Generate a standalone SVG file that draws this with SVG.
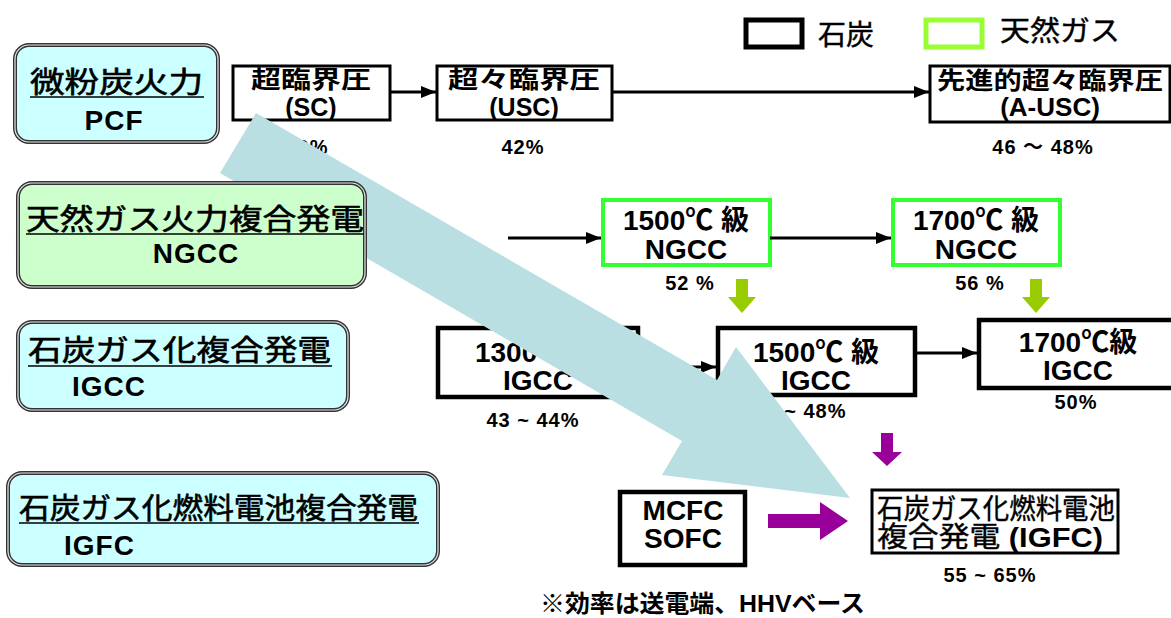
<svg xmlns="http://www.w3.org/2000/svg" width="1171" height="618" viewBox="0 0 1171 618">
<defs>
<marker id="ah" viewBox="0 0 10 10" refX="10" refY="5" markerWidth="5" markerHeight="5" markerUnits="strokeWidth" orient="auto"><path d="M0,1 L10,5 L0,9 z" fill="#000"/></marker>
<style>
text{font-family:"Liberation Sans","Noto Sans CJK JP",sans-serif;font-weight:bold;fill:#000}
.cat{stroke:#333;stroke-width:4}
.cat2{fill:none;stroke:#e8e8e8;stroke-width:1.2}
.blue{fill:#CCFFFF}
.green{fill:#CCFFCC}
.box{fill:#fff;stroke:#000;stroke-width:3}
.thick{fill:#fff;stroke:#000;stroke-width:4.5}
.gbox{fill:#fff;stroke:#33FF33;stroke-width:4}
.t24{font-size:24px}
.t25{font-size:25px}
.t26{font-size:26px}
.t28{font-size:28px}
.ttl{font-size:29px;font-weight:normal;stroke:#000;stroke-width:0.6}
.pct{font-size:20px;letter-spacing:1px}
.c{text-anchor:middle}
.ln{stroke:#000;stroke-width:3;fill:none;marker-end:url(#ah)}
.cn{font-weight:normal;stroke:#000;stroke-width:0.4}
.ul{stroke:#000;stroke-width:1.5}
</style>
</defs>

<g id="legend">
<rect x="746" y="20" width="56" height="27" fill="#fff" stroke="#000" stroke-width="5"/>
<text x="818" y="45" class="t28 cn">石炭</text>
<rect x="926" y="20" width="56" height="27" fill="#fff" stroke="#99FF33" stroke-width="5"/>
<text x="1000" y="41" class="t28 cn" textLength="120" lengthAdjust="spacingAndGlyphs">天然ガス</text>
</g>

<g id="cat-pcf">
<rect x="15" y="45" width="203" height="97" rx="14" class="cat blue"/>
<rect x="15" y="45" width="203" height="97" rx="14" class="cat2"/>
<text x="30" y="93" class="ttl" textLength="173" lengthAdjust="spacingAndGlyphs">微粉炭火力</text>
<line x1="30" y1="97" x2="204" y2="97" class="ul"/>
<text x="114" y="130" class="t28 c" letter-spacing="1">PCF</text>
</g>

<g id="n-sc">
<rect x="233" y="66" width="157" height="54" class="box"/>
<text x="311" y="88" class="t24 c" textLength="120" lengthAdjust="spacingAndGlyphs">超臨界圧</text>
<text x="311" y="116" class="t25 c">(SC)</text>
</g>
<g id="n-usc">
<rect x="437" y="66" width="175" height="54" class="box"/>
<text x="524" y="88" class="t24 c" textLength="152" lengthAdjust="spacingAndGlyphs">超々臨界圧</text>
<text x="524" y="116" class="t25 c">(USC)</text>
</g>
<g id="n-ausc">
<rect x="930" y="66" width="240" height="56" class="box"/>
<text x="1050" y="89" class="t24 c" textLength="226" lengthAdjust="spacingAndGlyphs">先進的超々臨界圧</text>
<text x="1050" y="116" class="t26 c">(A-USC)</text>
</g>
<text x="307" y="154" class="pct c">40%</text>
<text x="523" y="154" class="pct c">42%</text>
<text x="1043" y="154" class="pct c">46 〜 48%</text>

<g id="n-ngcc1500">
<rect x="603" y="200" width="167" height="65" class="gbox"/>
<text x="686" y="230" class="t28 c">1500℃ 級</text>
<text x="686" y="259" class="t28 c">NGCC</text>
</g>
<g id="n-ngcc1700">
<rect x="893" y="200" width="167" height="65" class="gbox"/>
<text x="976" y="230" class="t28 c">1700℃ 級</text>
<text x="976" y="259" class="t28 c">NGCC</text>
</g>
<text x="690" y="290" class="pct c">52 %</text>
<text x="980" y="290" class="pct c">56 %</text>

<g id="n-igcc1300">
<rect x="438" y="328" width="200" height="69" class="thick"/>
<text x="538" y="362" class="t28 c">1300℃ 級</text>
<text x="538" y="390" class="t28 c">IGCC</text>
</g>
<g id="n-igcc1500">
<rect x="718" y="328" width="197" height="67" class="thick"/>
<text x="816" y="362" class="t28 c">1500℃ 級</text>
<text x="816" y="390" class="t28 c">IGCC</text>
</g>
<g id="n-igcc1700">
<rect x="979" y="320" width="195" height="68" class="thick"/>
<text x="1078" y="352" class="t28 c">1700℃級</text>
<text x="1078" y="380" class="t28 c">IGCC</text>
</g>
<text x="533" y="427" class="pct c">43 ~ 44%</text>
<text x="800" y="418" class="pct c">46 ~ 48%</text>
<text x="1076" y="409" class="pct c">50%</text>

<g id="cat-igcc">
<rect x="18" y="322" width="330" height="88" rx="14" class="cat blue"/>
<rect x="18" y="322" width="330" height="88" rx="14" class="cat2"/>
<text x="28" y="361" class="ttl" textLength="303" lengthAdjust="spacingAndGlyphs">石炭ガス化複合発電</text>
<line x1="28" y1="366" x2="332" y2="366" class="ul"/>
<text x="72" y="396" class="t28" letter-spacing="1">IGCC</text>
</g>

<g id="cat-igfc">
<rect x="8" y="473" width="430" height="92" rx="14" class="cat blue"/>
<rect x="8" y="473" width="430" height="92" rx="14" class="cat2"/>
<text x="19" y="519" class="ttl" textLength="399" lengthAdjust="spacingAndGlyphs">石炭ガス化燃料電池複合発電</text>
<line x1="19" y1="523" x2="419" y2="523" class="ul"/>
<text x="64" y="555" class="t28" letter-spacing="1">IGFC</text>
</g>

<g id="n-mcfc">
<rect x="620" y="492" width="125" height="73" class="thick"/>
<text x="683" y="520" class="t28 c">MCFC</text>
<text x="683" y="548" class="t28 c">SOFC</text>
</g>
<g id="n-igfc">
<rect x="872" y="490" width="246" height="63" class="box"/>
<text x="877" y="519" class="t28 cn" textLength="238" lengthAdjust="spacingAndGlyphs">石炭ガス化燃料電池</text>
<text x="877" y="547" class="t28" textLength="226" lengthAdjust="spacingAndGlyphs"><tspan class="cn">複合発電</tspan> (IGFC)</text>
</g>
<text x="990" y="582" class="pct c">55 ~ 65%</text>

<g id="connectors">
<line x1="390" y1="92" x2="436" y2="92" class="ln"/>
<line x1="612" y1="92" x2="929" y2="92" class="ln"/>
<line x1="508" y1="238" x2="601" y2="238" class="ln"/>
<line x1="770" y1="238" x2="891" y2="238" class="ln"/>
<line x1="638" y1="367" x2="716" y2="367" class="ln"/>
<line x1="915" y1="353" x2="977" y2="353" class="ln"/>
<polygon points="736,279 748,279 748,297 756,297 742,313 728,297 736,297" fill="#99CC00"/>
<polygon points="1030,279 1042,279 1042,297 1050,297 1036,313 1022,297 1030,297" fill="#99CC00"/>
<polygon points="881,433 893,433 893,452 902,452 887,466 872,452 881,452" fill="#990099"/>
<polygon points="768,514 820,514 820,502 848,521 820,540 820,528 768,528" fill="#990099"/>
<polygon id="big-arrow" points="256,113 717,380 736,347 850,498 662,475 682,441 220,173" fill="#B9DFE3"/>
</g>

<g id="cat-ngcc">
<rect x="18" y="183" width="347" height="104" rx="14" class="cat green"/>
<rect x="18" y="183" width="347" height="104" rx="14" class="cat2"/>
<text x="26" y="230" class="ttl" textLength="338" lengthAdjust="spacingAndGlyphs">天然ガス火力複合発電</text>
<line x1="26" y1="234" x2="364" y2="234" class="ul"/>
<text x="196" y="263" class="t28 c" letter-spacing="1">NGCC</text>
</g>

<text x="540" y="612" class="t24" textLength="325" lengthAdjust="spacingAndGlyphs">※効率は送電端、HHVベース</text>
</svg>
